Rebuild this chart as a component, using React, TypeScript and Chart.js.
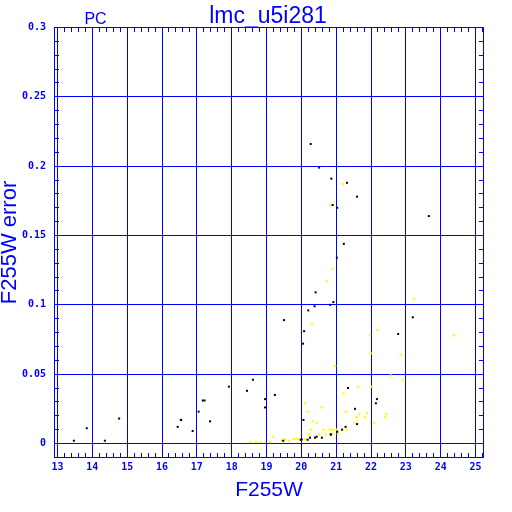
import React, { useEffect, useRef } from "react";
import { Chart, registerables } from "chart.js";

Chart.register(...registerables);

// ---- data ----
const plotTitle = "lmc_u5i281";
const cameraLabel = "PC";
const xAxisLabel = "F255W";
const yAxisLabel = "F255W error";

const xTickValues = [13, 14, 15, 16, 17, 18, 19, 20, 21, 22, 23, 24, 25];
const yTickValues = [0, 0.05, 0.1, 0.15, 0.2, 0.25, 0.3];
const yTickLabels = ["0", "0.05", "0.1", "0.15", "0.2", "0.25", "0.3"];

const blackX = [
  20.27, 20.51, 20.86, 20.9, 21.03, 21.31, 21.6, 23.66, 21.22, 21.02,
  20.92, 20.83, 23.2, 20.41, 20.38, 20.2, 19.5, 20.08, 20.05, 22.78,
  21.34, 22.17, 22.14, 21.54, 21.6, 21.27, 21.17, 21.03, 20.84, 18.61,
  17.92, 18.44, 19.24, 17.17, 17.22, 18.96, 18.96, 17.05, 16.55, 17.38,
  16.88, 20.06, 20.44, 20.25, 20.39, 20.59, 20.18, 19.98, 19.48, 13.47,
  13.84, 14.36, 14.77, 16.45, 16.54, 20.01, 20.85,
];
const blackY = [
  0.216, 0.199, 0.191, 0.172, 0.17, 0.188, 0.178, 0.164, 0.144, 0.134,
  0.102, 0.1, 0.091, 0.109, 0.099, 0.096, 0.089, 0.081, 0.072, 0.079,
  0.04, 0.032, 0.029, 0.025, 0.014, 0.012, 0.01, 0.0085, 0.0066, 0.046,
  0.041, 0.038, 0.035, 0.031, 0.031, 0.032, 0.026, 0.023, 0.017, 0.016,
  0.009, 0.017, 0.0049, 0.0042, 0.0042, 0.0042, 0.0027, 0.0027, 0.002, 0.002,
  0.011, 0.002, 0.018, 0.012, 0.017, 0.003, 0.0064,
];

const yellowX = [
  20.84, 21.2, 20.9, 20.73, 20.31, 23.23, 22.19, 21.97, 24.38, 22.85,
  21.99, 20.97, 22.57, 22.91, 21.62, 22.03, 21.21, 21.28, 21.88, 21.66,
  21.59, 21.82, 22.43, 22.4, 22.09, 21.53, 21.3, 21.02, 20.83, 20.9,
  21.05, 20.1, 20.2, 20.59, 20.33, 20.44, 20.27, 20.63, 20.21, 20.52,
  20.7, 20.11, 19.79, 19.91, 19.44, 19.53, 19.64, 19.18, 19.1, 18.83,
  18.7, 18.53, 19.87, 20.23, 20.92,
];
const yellowY = [
  0.172, 0.187, 0.126, 0.117, 0.086, 0.104, 0.082, 0.078, 0.078, 0.064,
  0.065, 0.056, 0.049, 0.046, 0.041, 0.041, 0.036, 0.023, 0.022, 0.021,
  0.019, 0.019, 0.021, 0.019, 0.015, 0.015, 0.01, 0.01, 0.01, 0.007,
  0.007, 0.029, 0.023, 0.026, 0.016, 0.015, 0.01, 0.01, 0.0066, 0.0066,
  0.0066, 0.003, 0.0032, 0.0032, 0.002, 0.003, 0.002, 0.0049, 0.0011, 0.0011,
  0.0011, 0.0011, 0.0035, 0.0064, 0.0097,
];

const BLUE = "#0000ff";

const toPoints = (xs: number[], ys: number[]) => xs.map((x, i) => ({ x, y: ys[i] }));

const decorPlugin = {
  id: "decor",
  afterDraw(chart: any) {
    const ctx = chart.ctx;
    const { left, right, top, bottom } = chart.chartArea;
    const xs = chart.scales.x;
    const ys = chart.scales.y;
    ctx.save();
    ctx.strokeStyle = BLUE;
    ctx.lineWidth = 1;
    // frame
    ctx.strokeRect(left + 0.5, top + 0.5, right - left - 1, bottom - top - 1);
    // minor ticks x
    ctx.beginPath();
    for (let k = 0; k <= 61; k++) {
      const v = 13 + k * 0.2;
      if (k % 5 === 0) continue;
      const p = Math.round(xs.getPixelForValue(v) - 0.5) + 0.5;
      if (p <= left || p >= right) continue;
      ctx.moveTo(p, bottom);
      ctx.lineTo(p, bottom - 5);
      ctx.moveTo(p, top);
      ctx.lineTo(p, top + 5);
    }
    // minor ticks y
    for (let k = 1; k < 30; k++) {
      if (k % 5 === 0) continue;
      const v = k * 0.01;
      const p = Math.round(ys.getPixelForValue(v) - 0.5) + 0.5;
      ctx.moveTo(left, p);
      ctx.lineTo(left + 5, p);
      ctx.moveTo(right, p);
      ctx.lineTo(right - 5, p);
    }
    ctx.stroke();
    // header texts
    ctx.fillStyle = BLUE;
    ctx.textAlign = "center";
    ctx.textBaseline = "alphabetic";
    ctx.font = '23px "Liberation Sans"';
    ctx.fillText(plotTitle, 268, 23);
    ctx.font = '16px "Liberation Sans"';
    ctx.fillText(cameraLabel, 95.5, 24);
    ctx.restore();
  },
};

export default function App() {
  const ref = useRef<HTMLCanvasElement | null>(null);
  useEffect(() => {
    if (!ref.current) return;
    const tickFont = { family: '"DejaVu Sans Mono"', size: 10, weight: "bold" as const };
    const chart = new Chart(ref.current, {
      type: "scatter",
      data: {
        datasets: [
          {
            label: "black",
            data: toPoints(blackX, blackY),
            backgroundColor: "#000000",
            borderWidth: 0,
            pointStyle: "rect",
            pointRadius: 1.42,
          },
          {
            label: "yellow",
            data: toPoints(yellowX, yellowY),
            backgroundColor: "#ffff00",
            borderWidth: 0,
            pointStyle: "rect",
            pointRadius: 1.6,
          },
        ],
      },
      options: {
        animation: false,
        responsive: false,
        devicePixelRatio: 1,
        layout: { padding: { top: 27, right: 28, left: 0, bottom: 0 } },
        plugins: {
          legend: { display: false },
          tooltip: { enabled: false },
          title: { display: false },
        },
        events: [],
        scales: {
          x: {
            type: "linear",
            min: 13 - 3.5 / (418 / 12),
            max: 25 + 8.5 / (418 / 12),
            afterBuildTicks: (scale: any) => {
              scale.ticks = xTickValues.map((v) => ({ value: v }));
            },
            afterFit: (scale: any) => {
              scale.height = 54;
            },
            ticks: {
              color: BLUE,
              font: tickFont,
              padding: 3,
              maxRotation: 0,
              autoSkip: false,
              callback: (v: any) => String(v),
            },
            grid: { color: BLUE, lineWidth: 1, drawTicks: false },
            border: { display: false },
            title: {
              display: true,
              text: xAxisLabel,
              color: BLUE,
              font: { family: '"Liberation Sans"', size: 21, lineHeight: 1 },
              padding: { top: 0, bottom: 11.5 },
            },
          },
          y: {
            type: "linear",
            min: -14.5 / (416 / 0.3),
            max: 0.3 + 0.5 / (416 / 0.3),
            afterBuildTicks: (scale: any) => {
              scale.ticks = yTickValues.map((v) => ({ value: v }));
            },
            afterFit: (scale: any) => {
              scale.width = 54;
            },
            ticks: {
              color: BLUE,
              font: tickFont,
              padding: 8,
              autoSkip: false,
              callback: (v: any) => {
                const i = yTickValues.findIndex((t) => Math.abs(t - v) < 1e-9);
                return i >= 0 ? yTickLabels[i] : "";
              },
            },
            grid: { color: BLUE, lineWidth: 1, drawTicks: false },
            border: { display: false },
            title: {
              display: true,
              text: yAxisLabel,
              color: BLUE,
              font: { family: '"Liberation Sans"', size: 22, lineHeight: 1 },
              padding: { top: -1.5, bottom: 0 },
            },
          },
        },
      },
      plugins: [decorPlugin],
    });
    return () => chart.destroy();
  }, []);
  return (
    <div style={{ position: "absolute", left: 0, top: 0, width: 512, height: 512, background: "#ffffff" }}>
      <canvas ref={ref} width={512} height={512} style={{ display: "block" }} />
    </div>
  );
}
